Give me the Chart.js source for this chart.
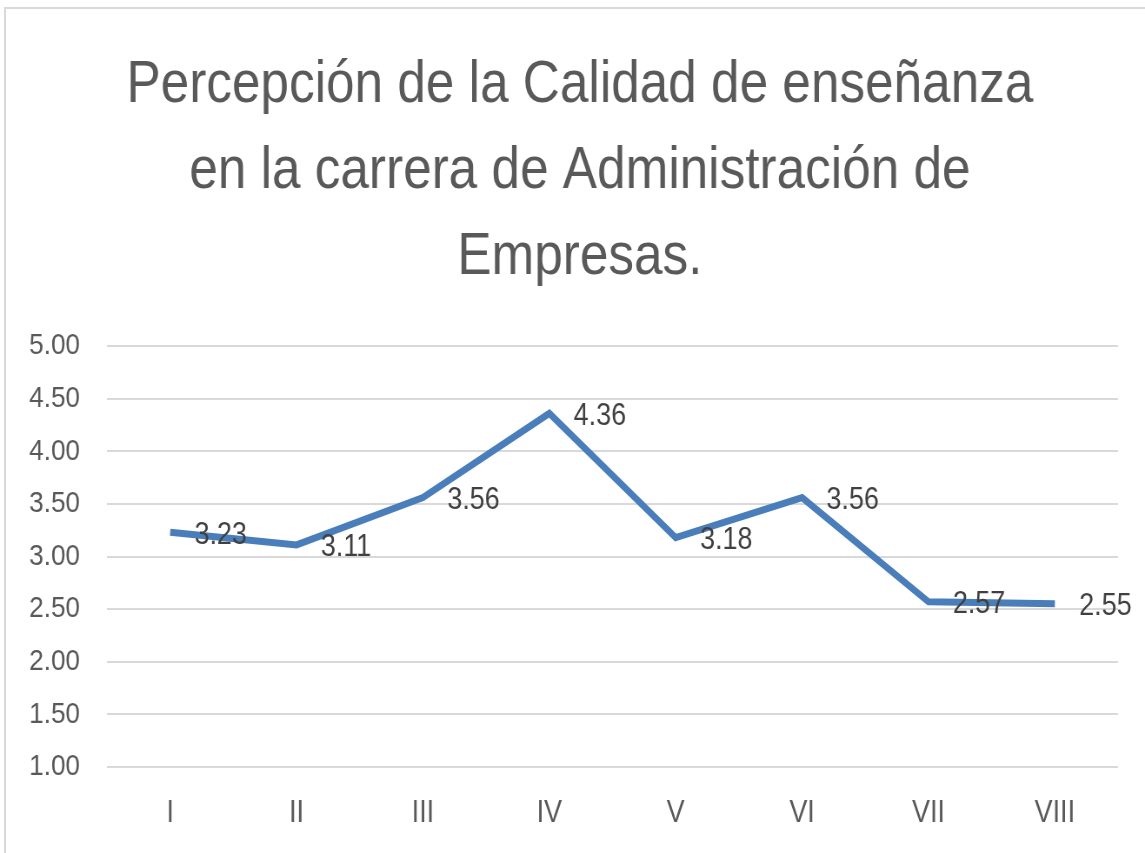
<!DOCTYPE html>
<html>
<head>
<meta charset="utf-8">
<script src="https://cdn.jsdelivr.net/npm/chart.js@4.4.0/dist/chart.umd.min.js"></script>
<style>
  html, body { margin: 0; padding: 0; background: #ffffff; }
  #wrap { position: relative; width: 1145px; height: 853px; overflow: hidden; }
  #frame { position: absolute; left: 4px; top: 7px; width: 1200px; height: 900px;
           border-left: 2px solid #d9d9d9; border-top: 2px solid #d9d9d9; pointer-events: none; }
  #c { position: absolute; left: 0; top: 0; transform-origin: 0 0; }
</style>
</head>
<body>
<div id="wrap">
  <canvas id="c"></canvas>
  <div id="frame"></div>
</div>
<script>
const categories = ['I', 'II', 'III', 'IV', 'V', 'VI', 'VII', 'VIII'];
const values = [3.23, 3.11, 3.56, 4.36, 3.18, 3.56, 2.57, 2.55];
const titleLines = ['Percepción de la Calidad de enseñanza', 'en la carrera de Administración de', 'Empresas.'];
const yMin = 1, yMax = 5, yStep = 0.5;

// The reference text is horizontally condensed; draw on a wider canvas and squeeze it.
const SQUEEZE = 1.15;
const W = 1145, H = 853;
const CW = Math.round(W * SQUEEZE);
const canvas = document.getElementById('c');
canvas.width = CW;
canvas.height = H;
canvas.style.width = CW + 'px';
canvas.style.height = H + 'px';
canvas.style.transform = 'scaleX(' + (W / CW) + ')';

const FONT = "'Liberation Sans', Arial, sans-serif";
const px = v => Math.round(v * SQUEEZE);

const TITLE_SIZE = 59, TITLE_LH = 86, TITLE_TOP = 43, TITLE_CX = 580;

const titlePlugin = {
  id: 'centeredTitle',
  afterDraw(chart) {
    const ctx = chart.ctx;
    ctx.save();
    ctx.font = TITLE_SIZE + 'px ' + FONT;
    ctx.fillStyle = '#595959';
    ctx.textAlign = 'center';
    ctx.textBaseline = 'middle';
    titleLines.forEach((line, i) => {
      ctx.fillText(line, px(TITLE_CX), TITLE_TOP + TITLE_LH / 2 + i * TITLE_LH);
    });
    ctx.restore();
  }
};

const labelPlugin = {
  id: 'pointLabels',
  afterDatasetsDraw(chart) {
    const ctx = chart.ctx;
    const meta = chart.getDatasetMeta(0);
    ctx.save();
    ctx.font = '31px ' + FONT;
    ctx.fillStyle = '#404040';
    ctx.textAlign = 'left';
    ctx.textBaseline = 'middle';
    meta.data.forEach((pt, i) => {
      ctx.fillText(values[i].toFixed(2), pt.x + px(24), pt.y + 3);
    });
    ctx.restore();
  }
};

new Chart(canvas, {
  type: 'line',
  data: {
    labels: categories,
    datasets: [{
      data: values,
      borderColor: '#4a7ebb',
      borderWidth: 7,
      pointRadius: 0,
      tension: 0,
      fill: false,
      borderCapStyle: 'butt',
      borderJoinStyle: 'miter'
    }]
  },
  options: {
    responsive: false,
    animation: false,
    devicePixelRatio: 1,
    layout: { padding: { left: px(5), right: px(27), top: TITLE_TOP + 3 * TITLE_LH + 45, bottom: 0 } },
    plugins: {
      legend: { display: false },
      tooltip: { enabled: false },
      title: { display: false }
    },
    scales: {
      x: {
        offset: true,
        grid: { display: false },
        border: { display: false },
        ticks: { color: '#595959', font: { family: FONT, size: 31 }, padding: 20 },
        afterFit(scale) { scale.height = 86; }
      },
      y: {
        min: yMin, max: yMax,
        grid: { color: '#d9d9d9', lineWidth: 2, drawTicks: false },
        border: { display: false },
        ticks: {
          stepSize: yStep,
          color: '#595959',
          font: { family: FONT, size: 30 },
          padding: px(27),
          callback: v => Number(v).toFixed(2)
        },
        afterFit(scale) { scale.width = px(107) - px(5); }
      }
    }
  },
  plugins: [labelPlugin, titlePlugin]
});
</script>
</body>
</html>
